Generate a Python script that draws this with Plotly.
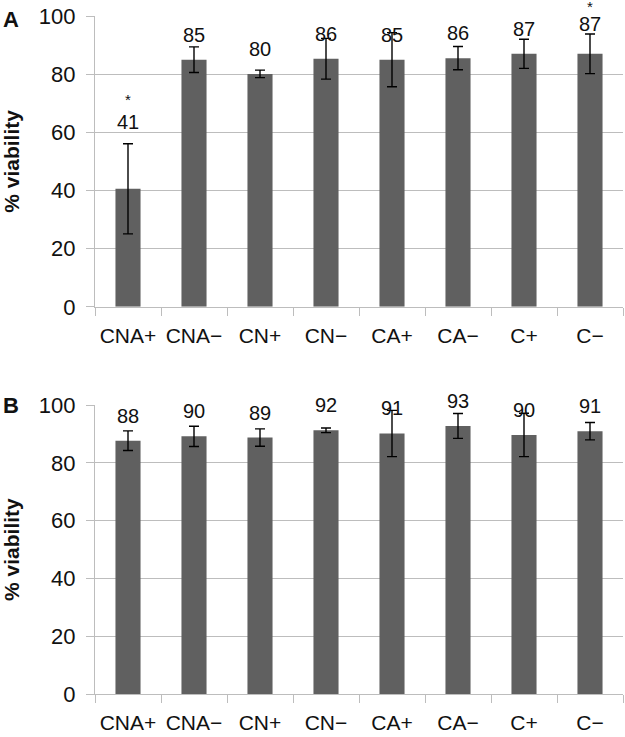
import plotly.graph_objects as go

# categories (minus sign is U+2212 as in the figure)
groups = ["CNA+", "CNA\u2212", "CN+", "CN\u2212", "CA+", "CA\u2212", "C+", "C\u2212"]

# panel A
a_vals = [40.6, 85.0, 80.1, 85.3, 85.0, 85.5, 87.0, 87.0]
a_err = [15.5, 4.4, 1.3, 7.0, 9.3, 4.0, 5.0, 6.8]
a_text = ["41", "85", "80", "86", "85", "86", "87", "87"]
a_star = [True, False, False, False, False, False, False, True]

# panel B
b_vals = [87.7, 89.2, 88.8, 91.3, 90.2, 92.8, 89.7, 91.0]
b_err = [3.4, 3.5, 3.0, 0.8, 8.0, 4.3, 7.5, 3.0]
b_text = ["88", "90", "89", "92", "91", "93", "90", "91"]
b_star = [False] * 8

y_ticks = [0, 20, 40, 60, 80, 100]

FONT = "Liberation Sans, Arial, sans-serif"
BAR = "#606060"
GRID = "#bdbdbd"
W, H = 625, 737
ML, MR, MT, MB = 95, 2, 16, 43

fig = go.Figure()

panels = [("x", "y", a_vals, a_err, a_text, a_star),
          ("x2", "y2", b_vals, b_err, b_text, b_star)]

annots = []
for xa, ya, vals, err, txt, star in panels:
    fig.add_trace(go.Bar(
        x=groups, y=vals, xaxis=xa, yaxis=ya, width=0.38,
        marker=dict(color=BAR, line=dict(width=0)),
        error_y=dict(type="data", array=err, color="black", thickness=1.4, width=5),
        hoverinfo="skip", showlegend=False))
    for g, v, e, t, s in zip(groups, vals, err, txt, star):
        # anchor stays inside the axis range, text is shifted up in pixels
        if e > 10:
            base, shift, sgap = v + e, 22, 22
        else:
            base, shift, sgap = v, 30 if s else 25, 17
        annots.append(dict(x=g, y=base, xref=xa, yref=ya, text=t, showarrow=False,
                           yshift=shift, font=dict(family=FONT, size=20, color="#111")))
        if s:
            annots.append(dict(x=g, y=base, xref=xa, yref=ya, text="*", showarrow=False,
                               yshift=shift + sgap, font=dict(family=FONT, size=15, color="#111")))


def paper_xy(px, py):
    return (px - ML) / (W - ML - MR), 1 - (py - MT) / (H - MT - MB)


for letter, py in (("A", 19.5), ("B", 405.5)):
    px_, py_ = paper_xy(11, py)
    annots.append(dict(x=px_, y=py_, xref="paper", yref="paper", text="<b>%s</b>" % letter,
                       showarrow=False, xanchor="center", yanchor="middle",
                       font=dict(family=FONT, size=22, color="#111")))

axis_x = dict(type="category", tickson="boundaries", ticks="outside", ticklen=8,
              tickcolor=GRID, showline=True, linecolor=GRID, linewidth=1.2,
              showgrid=False, ticklabelstandoff=10, automargin=False, tickangle=0,
              tickfont=dict(family=FONT, size=21, color="#111"))
axis_y = dict(range=[0, 100], tickvals=y_ticks, ticks="outside", ticklen=8,
              tickcolor=GRID, showline=True, linecolor=GRID, linewidth=1.2,
              gridcolor=GRID, gridwidth=1.2, zeroline=False, automargin=False,
              ticklabelstandoff=6,
              tickfont=dict(family=FONT, size=22, color="#111"),
              title=dict(text="<b>% viability</b>", standoff=13,
                         font=dict(family=FONT, size=21, color="#111")))

fig.update_layout(
    width=W, height=H,
    margin=dict(l=ML, r=MR, t=MT, b=MB),
    plot_bgcolor="white", paper_bgcolor="white",
    xaxis=dict(axis_x, anchor="y"),
    yaxis=dict(axis_y, domain=[0.571, 1.0], anchor="x"),
    xaxis2=dict(axis_x, anchor="y2"),
    yaxis2=dict(axis_y, domain=[0.0, 0.426], anchor="x2"),
    annotations=annots,
    font=dict(family=FONT),
)

fig.write_html("out.html", config={"displayModeBar": False},
               post_script="document.body.style.margin='0';document.body.style.overflow='hidden';")
